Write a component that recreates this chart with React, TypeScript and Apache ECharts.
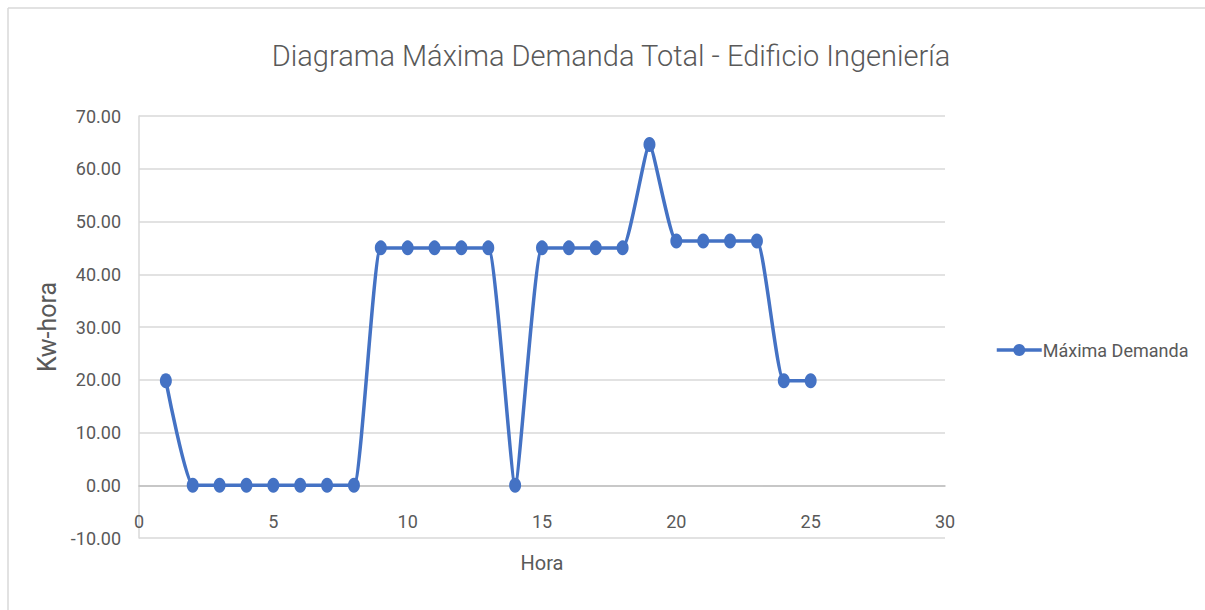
import React, { useEffect, useRef } from "react";
import * as echarts from "echarts";

const TITLE = "Diagrama Máxima Demanda Total - Edificio Ingeniería";
const SERIES_NAME = "Máxima Demanda";
const X_NAME = "Hora";
const Y_NAME = "Kw-hora";

const hours = [1, 2, 3, 4, 5, 6, 7, 8, 9, 10, 11, 12, 13, 14, 15, 16, 17, 18, 19, 20, 21, 22, 23, 24, 25];
const demand = [19.8, 0, 0, 0, 0, 0, 0, 0, 45, 45, 45, 45, 45, 0, 45, 45, 45, 45, 64.6, 46.3, 46.3, 46.3, 46.3, 19.8, 19.8];
const xTicks = { min: 0, max: 30, interval: 5 };
const yTicks = { min: -10, max: 70, interval: 10 };

const FONT = "Roboto, 'Liberation Sans', sans-serif";
const GREY = "#595959";
const BLUE = "#4472c4";

export default function App() {
  const ref = useRef<HTMLDivElement>(null);
  useEffect(() => {
    if (!ref.current) return;
    const chart = echarts.init(ref.current, undefined, { renderer: "svg" });
    const data = hours.map((h, i) => [h, demand[i]]);
    chart.setOption({
      animation: false,
      backgroundColor: "#ffffff",
      textStyle: { fontFamily: FONT },
      title: {
        text: TITLE,
        left: 606,
        top: 36,
        textAlign: "center",
        textStyle: { fontFamily: FONT, fontWeight: 300, fontSize: 29, color: GREY },
      },
      legend: {
        left: 990,
        top: 336,
        orient: "vertical",
        itemWidth: 45,
        itemHeight: 15,
        itemGap: 5,
        textStyle: { fontFamily: FONT, fontSize: 18, color: GREY, padding: [0, 0, 0, -4] },
        lineStyle: { width: 3.5 },
        data: [SERIES_NAME],
      },
      grid: { left: 139, right: 260, top: 116, bottom: 72, containLabel: false, outerBoundsMode: "none" },
      xAxis: {
        type: "value",
        ...xTicks,
        offset: -52.75,
        name: X_NAME,
        nameLocation: "middle",
        nameGap: 68,
        nameTextStyle: { fontFamily: FONT, fontSize: 20, color: GREY },
        axisLine: { show: true, onZero: false, lineStyle: { color: "#bfbfbf", width: 1.5 } },
        axisTick: { show: false },
        splitLine: { show: false },
        axisLabel: { margin: 27, fontFamily: FONT, fontSize: 18, color: GREY },
      },
      yAxis: {
        type: "value",
        ...yTicks,
        name: Y_NAME,
        nameLocation: "middle",
        nameGap: 76,
        nameTextStyle: { fontFamily: FONT, fontSize: 25, color: GREY },
        axisLine: { show: true, lineStyle: { color: "#d9d9d9", width: 1.5 } },
        axisTick: { show: false },
        splitLine: { show: true, lineStyle: { color: "#d9d9d9", width: 1.5 } },
        axisLabel: {
          margin: 18,
          fontFamily: FONT,
          fontSize: 18,
          color: GREY,
          formatter: (v: number) => v.toFixed(2),
        },
      },
      graphic: [
        { type: "line", shape: { x1: 8, y1: 8, x2: 1205, y2: 8 }, style: { stroke: "#d9d9d9", lineWidth: 1.5 } },
        { type: "line", shape: { x1: 8, y1: 8, x2: 8, y2: 610 }, style: { stroke: "#d9d9d9", lineWidth: 1.5 } },
      ],
      series: [
        {
          name: SERIES_NAME,
          type: "line",
          data,
          smooth: 0.15,
          symbol: "circle",
          symbolSize: [12, 15],
          showSymbol: true,
          lineStyle: { color: BLUE, width: 3.5 },
          itemStyle: { color: BLUE },
        },
      ],
    });
    return () => chart.dispose();
  }, []);
  return (
    <div
      ref={ref}
      style={{ position: "fixed", left: 0, top: 0, width: 1205, height: 610 }}
    />
  );
}
